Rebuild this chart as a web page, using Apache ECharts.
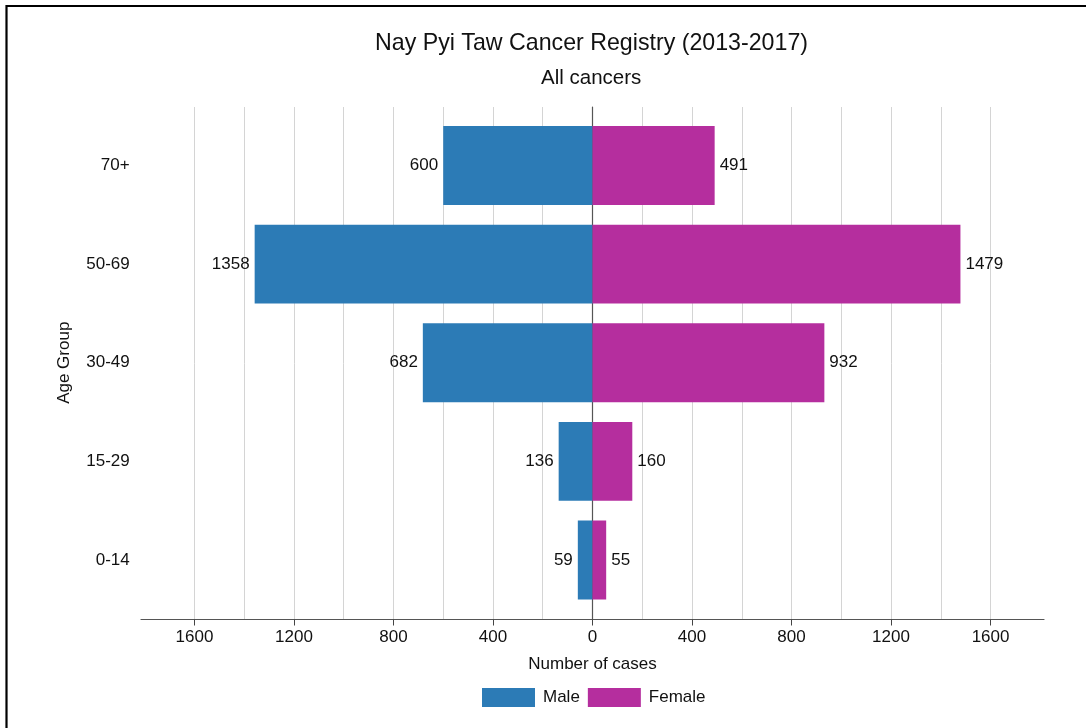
<!DOCTYPE html>
<html>
<head>
<meta charset="utf-8">
<script src="https://cdn.jsdelivr.net/npm/echarts@6/dist/echarts.min.js"></script>
<style>html,body{margin:0;padding:0;background:#fff;}#c{width:1086px;height:728px;}</style>
</head>
<body>
<div id="c"></div>
<script>
const ageGroups = ['0-14', '15-29', '30-49', '50-69', '70+'];
const maleCases = [59, 136, 682, 1358, 600];
const femaleCases = [55, 160, 932, 1479, 491];
const tickValues = [-1600, -1200, -800, -400, 0, 400, 800, 1200, 1600];
const seriesNames = ['Male', 'Female'];

const FONT = '"Liberation Sans", Arial, Helvetica, sans-serif';
const chart = echarts.init(document.getElementById('c'), null, {renderer: 'canvas'});

const absFmt = v => String(Math.abs(v));

const option = {
  backgroundColor: '#fff',
  animation: false,
  textStyle: {fontFamily: FONT},
  title: [
    {text: 'Nay Pyi Taw Cancer Registry (2013-2017)', left: 370, top: 27,
     textStyle: {fontFamily: FONT, fontSize: 23.2, fontWeight: 'normal', color: '#111'}},
    {text: 'All cancers', left: 536, top: 63,
     textStyle: {fontFamily: FONT, fontSize: 20.5, fontWeight: 'normal', color: '#111'}}
  ],
  legend: {
    data: seriesNames, top: 683, left: 477,
    icon: 'rect', itemWidth: 53, itemHeight: 19, itemGap: 8,
    textStyle: {fontFamily: FONT, fontSize: 17, color: '#111', padding: [0, 0, 0, 3]}
  },
  graphic: [{
    type: 'polyline', silent: true,
    shape: {points: [[6.5, 740], [6.5, 6], [1100, 6]]},
    style: {stroke: '#000', lineWidth: 2.2, fill: null}
  }],
  grid: [
    {left: 144.7, right: 45.7, top: 107, bottom: 108.5},
    {left: 141, right: 42, top: 107, bottom: 108.5},
    {left: 144.7, right: 45.7, top: 116.2, bottom: 118.7}
  ],
  xAxis: [
    {gridIndex: 0, type: 'value', min: -1800, max: 1800, interval: 200,
     axisLine: {show: false},
     axisTick: {show: true, length: 6, customValues: tickValues, lineStyle: {color: '#444'}},
     axisLabel: {show: true, customValues: tickValues, formatter: absFmt, fontFamily: FONT, fontSize: 17, color: '#111', margin: 9},
     splitLine: {show: false},
     name: 'Number of cases', nameLocation: 'middle', nameGap: 36,
     nameTextStyle: {fontFamily: FONT, fontSize: 17, color: '#111'}},
    {gridIndex: 1, type: 'value', min: -1815, max: 1815,
     axisLine: {show: true, onZero: false, lineStyle: {color: '#555', width: 1.2}},
     axisTick: {show: false}, axisLabel: {show: false}, splitLine: {show: false}},
    {gridIndex: 2, type: 'value', min: -1800, max: 1800, show: false},
    {gridIndex: 0, type: 'value', position: 'top', min: -1800, max: 1800, interval: 200,
     axisLine: {show: false}, axisTick: {show: false}, axisLabel: {show: false},
     splitLine: {show: true, showMinLine: false, showMaxLine: false, lineStyle: {color: '#d4d4d4', width: 1}}}
  ],
  yAxis: [
    {gridIndex: 0, type: 'value', min: 0, max: 1,
     axisLine: {show: true, onZero: true, lineStyle: {color: '#555', width: 1.2}},
     axisTick: {show: false}, axisLabel: {show: false}, splitLine: {show: false}},
    {gridIndex: 1, type: 'value', min: 0, max: 1, show: false},
    {gridIndex: 2, type: 'category', data: ageGroups,
     axisLine: {show: false}, axisTick: {show: false}, splitLine: {show: false},
     axisLabel: {fontFamily: FONT, fontSize: 17, color: '#111', margin: 15},
     name: 'Age Group', nameLocation: 'middle', nameRotate: 90, nameGap: 72,
     nameTextStyle: {fontFamily: FONT, fontSize: 17, color: '#111'}}
  ],
  series: [
    {name: seriesNames[0], type: 'bar', xAxisIndex: 2, yAxisIndex: 2,
     data: maleCases.map(v => -v), barWidth: '80%', barGap: '-100%',
     itemStyle: {color: '#2c7bb6'},
     label: {show: true, position: 'left', distance: 5, formatter: p => absFmt(p.value),
             fontFamily: FONT, fontSize: 17, color: '#111'}},
    {name: seriesNames[1], type: 'bar', xAxisIndex: 2, yAxisIndex: 2,
     data: femaleCases, barWidth: '80%', barGap: '-100%',
     itemStyle: {color: '#b52e9e'},
     label: {show: true, position: 'right', distance: 5,
             fontFamily: FONT, fontSize: 17, color: '#111'}}
  ]
};
chart.setOption(option);
</script>
</body>
</html>
